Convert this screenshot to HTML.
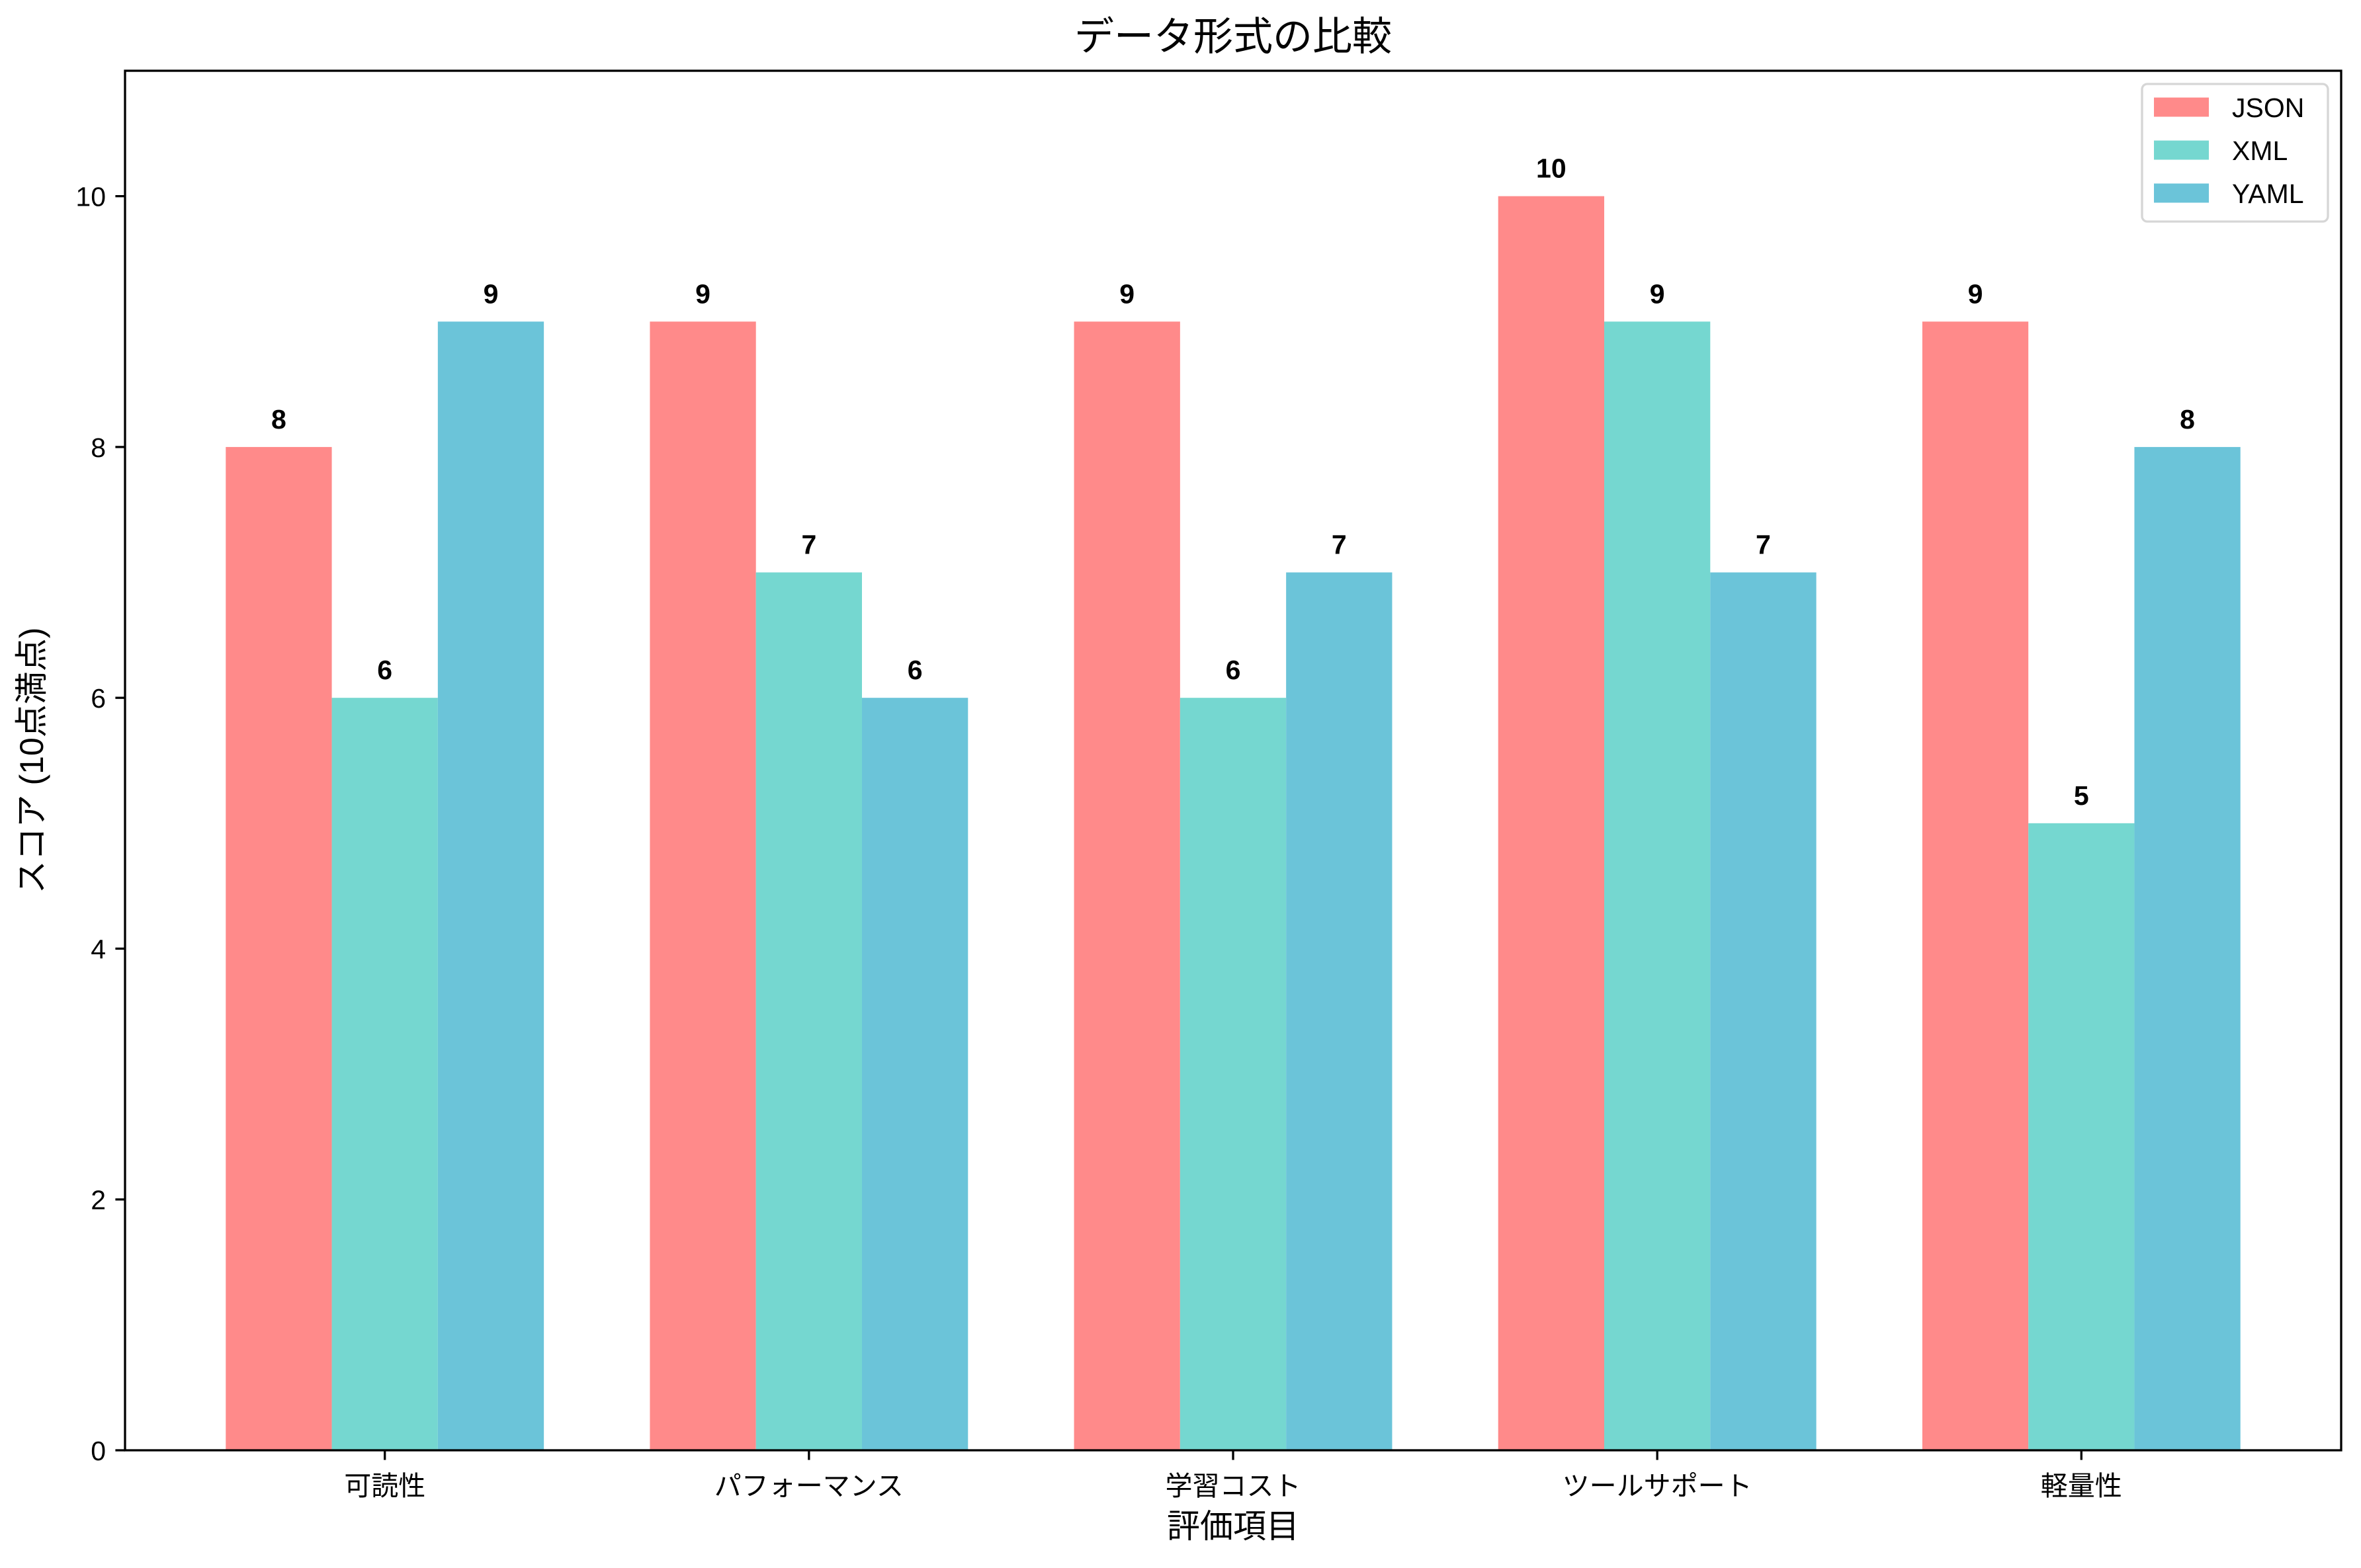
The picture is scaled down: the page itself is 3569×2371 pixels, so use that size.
<!DOCTYPE html>
<html><head><meta charset="utf-8"><style>
html,body{margin:0;padding:0;background:#fff;}
svg{display:block;}
text{font-family:"Liberation Sans","Noto Sans CJK JP",sans-serif;}
</style></head><body>
<svg id="chart" width="3569" height="2371" xmlns="http://www.w3.org/2000/svg">
<rect width="3569" height="2371" fill="#fff"/>
<text x="1864" y="76" font-size="60" text-anchor="middle">データ形式の比較</text>
<text transform="translate(52,1150) rotate(-90)" font-size="50" text-anchor="middle" dominant-baseline="middle">スコア (10点満点)</text>
<text x="1864" y="2325" font-size="50" text-anchor="middle">評価項目</text>
<g id="bars"></g>
<g id="axes"></g>
</svg>
<script>
const categories = ["可読性","パフォーマンス","学習コスト","ツールサポート","軽量性"];
const seriesNames = ["JSON","XML","YAML"];
const jsonValues = [8,9,9,10,9];
const xmlValues = [6,7,6,9,5];
const yamlValues = [9,6,7,7,8];
const yTicks = [0,2,4,6,8,10];

const NS = "http://www.w3.org/2000/svg";
const L = 189, R = 3539, T = 107, B = 2193;
const xMin = -0.6125, xMax = 4.6125, yMax = 11;
const colors = ["#ff8a8a","#75d7d0","#6bc4d9"];
const allSeries = [jsonValues, xmlValues, yamlValues];
const barW = 0.25;
function xs(v){ return L + (v - xMin) / (xMax - xMin) * (R - L); }
function ys(v){ return B - v / yMax * (B - T); }
function mk(tag, attrs, parent){
  const e = document.createElementNS(NS, tag);
  for (const k in attrs) e.setAttribute(k, attrs[k]);
  parent.appendChild(e); return e;
}
const bars = document.getElementById("bars");
const axes = document.getElementById("axes");
allSeries.forEach((vals, s) => {
  vals.forEach((v, i) => {
    const c = i + (s - 1) * barW;
    const x0 = xs(c - barW/2), x1 = xs(c + barW/2);
    const r = mk("rect", {x:x0, y:ys(v), width:x1-x0, height:ys(0)-ys(v), fill:colors[s]}, bars);
    
    
    const t = mk("text", {x:(x0+x1)/2, y:ys(v)-28, "font-size":41, "font-weight":"bold", "text-anchor":"middle"}, bars);
    t.textContent = v;
    
    
  });
});
// frame
const fr = mk("rect", {x:L, y:T, width:R-L, height:B-T, fill:"none", stroke:"#000", "stroke-width":3.3}, axes);


yTicks.forEach(v => {
  const y = ys(v);
  const tk = mk("line", {x1:L-14.6, x2:L, y1:y, y2:y, stroke:"#000", "stroke-width":3.3}, axes);
  
  
  const t = mk("text", {x:L-29, y:y+15, "font-size":41, "text-anchor":"end"}, axes);
  t.textContent = v;
  
  
});
categories.forEach((c, i) => {
  const x = xs(i);
  const tk = mk("line", {x1:x, x2:x, y1:B, y2:B+14.6, stroke:"#000", "stroke-width":3.3}, axes);
  
  
  const t = mk("text", {x:x, y:B+68, "font-size":41, "text-anchor":"middle"}, axes);
  t.textContent = c;
  
  
});
// legend
const lg = mk("g", {}, axes);


mk("rect", {x:3238, y:127, width:281, height:208, rx:8, fill:"#fff", "fill-opacity":0.8, stroke:"#d6d6d6", "stroke-width":3.3}, lg);
seriesNames.forEach((n, s) => {
  const cy = 162 + s * 65;
  const p = mk("rect", {x:3256, y:cy-14.5, width:83, height:29, fill:colors[s]}, lg);
  
  
  const t = mk("text", {x:3374, y:cy+15, "font-size":41}, lg);
  t.textContent = n;
  
  
});
</script>
</body></html>
